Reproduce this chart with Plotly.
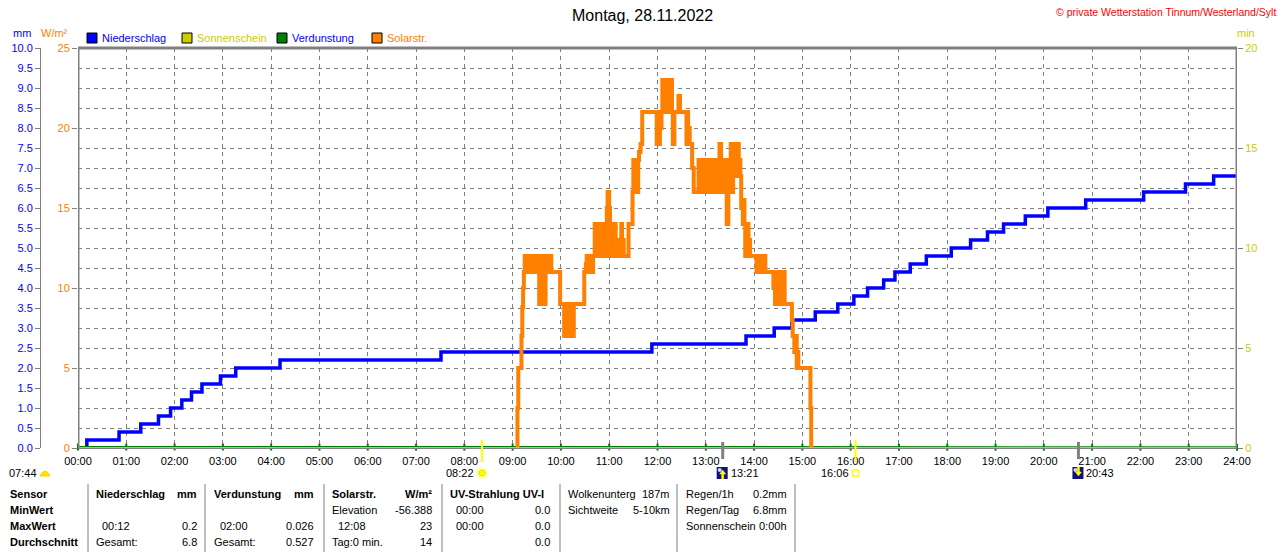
import plotly.graph_objects as go

# ---------------- data ----------------
precip_times = ["00:00", "00:11", "00:51", "01:18", "01:40", "01:55", "02:09", "02:21", "02:34",
                "02:57", "03:16", "04:11", "07:31", "11:53", "13:50", "14:25", "14:47", "15:16",
                "15:44", "16:04", "16:21", "16:41", "16:55", "17:14", "17:34", "18:05", "18:29",
                "18:50", "19:10", "19:37", "20:05", "20:52", "22:04", "22:56", "23:31", "24:00"]
precip_mm = [0.0, 0.2, 0.4, 0.6, 0.8, 1.0, 1.2, 1.4, 1.6, 1.8, 2.0, 2.2, 2.4, 2.6, 2.8, 3.0, 3.2,
             3.4, 3.6, 3.8, 4.0, 4.2, 4.4, 4.6, 4.8, 5.0, 5.2, 5.4, 5.6, 5.8, 6.0, 6.2, 6.4, 6.6,
             6.8, 6.8]

evap_times = ["%02d:00" % h for h in range(25)]
evap_mm = [0.022, 0.024, 0.026, 0.025, 0.024, 0.023, 0.022, 0.022, 0.021, 0.022, 0.023, 0.024,
           0.024, 0.023, 0.022, 0.021, 0.021, 0.020, 0.020, 0.020, 0.020, 0.020, 0.020, 0.020,
           0.020]

sun_times = ["00:00", "24:00"]
sun_min = [0, 0]

solar_times = [
    "09:05", "09:06", "09:07", "09:11", "09:12", "09:13", "09:14", "09:15", "09:16", "09:17",
    "09:18", "09:19", "09:20", "09:21", "09:23", "09:24", "09:26", "09:27", "09:29", "09:31",
    "09:33", "09:34", "09:35", "09:36", "09:37", "09:38", "09:39", "09:40", "09:41", "09:42",
    "09:44", "09:46", "09:47", "09:48", "09:59", "10:04", "10:05", "10:06", "10:07", "10:08",
    "10:09", "10:10", "10:11", "10:12", "10:14", "10:15", "10:16", "10:29", "10:31", "10:32",
    "10:33", "10:34", "10:35", "10:36", "10:37", "10:38", "10:39", "10:40", "10:42", "10:43",
    "10:44", "10:45", "10:46", "10:47", "10:48", "10:49", "10:50", "10:51", "10:52", "10:53",
    "10:54", "10:57", "10:58", "11:00", "11:01", "11:02", "11:03", "11:04", "11:05", "11:06",
    "11:07", "11:08", "11:09", "11:10", "11:15", "11:16", "11:17", "11:18", "11:24", "11:29",
    "11:30", "11:31", "11:32", "11:33", "11:34", "11:35", "11:36", "11:37", "11:39", "11:41",
    "11:59", "12:00", "12:02", "12:03", "12:04", "12:05", "12:06", "12:07", "12:08", "12:10",
    "12:11", "12:12", "12:13", "12:14", "12:15", "12:16", "12:17", "12:18", "12:19", "12:21",
    "12:26", "12:28", "12:36", "12:37", "12:38", "12:39", "12:40", "12:43", "12:45", "12:51",
    "12:54", "12:57", "12:58", "12:59", "13:00", "13:01", "13:02", "13:03", "13:04", "13:07",
    "13:08", "13:09", "13:10", "13:11", "13:12", "13:17", "13:19", "13:20", "13:21", "13:22",
    "13:23", "13:24", "13:26", "13:28", "13:30", "13:31", "13:32", "13:33", "13:34", "13:35",
    "13:36", "13:37", "13:38", "13:39", "13:40", "13:41", "13:42", "13:43", "13:44", "13:46",
    "13:47", "13:48", "13:49", "13:50", "13:51", "13:52", "13:53", "13:54", "13:55", "14:03",
    "14:04", "14:05", "14:06", "14:07", "14:08", "14:09", "14:10", "14:11", "14:12", "14:14",
    "14:24", "14:25", "14:26", "14:27", "14:28", "14:29", "14:30", "14:31", "14:32", "14:33",
    "14:34", "14:35", "14:36", "14:37", "14:38", "14:47", "14:48", "14:50", "14:52", "14:53",
    "14:54", "14:55", "15:10", "15:11"]
solar_wm2 = [
    0, 2.5, 5, 7, 8.8, 10, 11, 12, 11, 12,
    11, 12, 11, 12, 11, 12, 11, 12, 11, 12,
    9, 12, 9, 11, 9, 12, 11, 9, 12, 11,
    12, 11, 12, 11, 9, 7, 9, 7, 8, 7,
    9, 7, 9, 7, 8, 7, 9, 11, 11.5, 12,
    11, 12, 11, 12, 11, 12, 11, 12, 14, 12,
    14, 12, 14, 13, 12, 14, 12, 14, 12, 14,
    12, 15, 16, 15, 14, 12, 14, 12, 14, 12,
    14, 12, 13, 12, 14, 12, 13, 12, 14, 16,
    18, 16, 18, 16, 18, 16, 18, 18.5, 19, 21,
    19, 21, 19, 21, 20, 21, 23, 21, 23, 21,
    23, 22, 21, 23, 22, 21, 23, 21, 19, 21,
    22, 21, 19, 21, 19, 20, 19, 17.5, 16, 18,
    16, 18, 16, 18, 16, 18, 16, 17, 16, 18,
    16, 18, 16, 18, 16, 19, 16, 18, 16, 18,
    17, 18, 14, 18, 17, 19, 17, 16, 19, 17,
    19, 17, 19, 18, 19, 17, 18, 17, 15, 14,
    15.5, 14, 12, 14, 12, 14, 12, 13, 12, 11,
    12, 11, 12, 11, 12, 11, 12, 11, 12, 11,
    10, 11, 9, 11, 9, 11, 9, 11, 9, 11,
    9, 10, 9, 11, 9, 8, 7, 6, 7, 5,
    6, 5, 2.5, 0]

hour_labels = ["%02d:00" % h for h in range(25)]
mm_ticks = [i * 0.5 for i in range(21)]
wm2_ticks = [0, 5, 10, 15, 20, 25]
min_ticks = [0, 5, 10, 15, 20]

title_text = "Montag, 28.11.2022"
copyright_text = "© private Wetterstation Tinnum/Westerland/Sylt"
legend_items = [("Niederschlag", "#0000FF", "#0000FF"), ("Sonnenschein", "#CCCC00", "#CCCC00"),
                ("Verdunstung", "#008000", "#0000FF"), ("Solarstr.", "#FF8000", "#FF8000")]

dawn_time = "07:44"
sunrise_time = "08:22"
sunset_time = "16:06"
moonrise_time = "13:21"
moonset_time = "20:43"

table_rows = [
    # (text, x_px, anchor, bold, row)
    ("Sensor", 8, "left", True, 0), ("MinWert", 8, "left", True, 1),
    ("MaxWert", 8, "left", True, 2), ("Durchschnitt", 8, "left", True, 3),
    ("Niederschlag", 94, "left", True, 0), ("mm", 199, "right", True, 0),
    ("00:12", 100, "left", False, 2), ("0.2", 199, "right", False, 2),
    ("Gesamt:", 94, "left", False, 3), ("6.8", 199, "right", False, 3),
    ("Verdunstung", 212, "left", True, 0), ("mm", 316, "right", True, 0),
    ("02:00", 218, "left", False, 2), ("0.026", 316, "right", False, 2),
    ("Gesamt:", 212, "left", False, 3), ("0.527", 316, "right", False, 3),
    ("Solarstr.", 330, "left", True, 0), ("W/m²", 434, "right", True, 0),
    ("Elevation", 330, "left", False, 1), ("-56.388", 434, "right", False, 1),
    ("12:08", 336, "left", False, 2), ("23", 434, "right", False, 2),
    ("Tag:0 min.", 330, "left", False, 3), ("14", 434, "right", False, 3),
    ("UV-Strahlung UV-I", 448, "left", True, 0),
    ("00:00", 454, "left", False, 1), ("0.0", 552, "right", False, 1),
    ("00:00", 454, "left", False, 2), ("0.0", 552, "right", False, 2),
    ("0.0", 552, "right", False, 3),
    ("Wolkenunterg", 566, "left", False, 0), ("187m", 672, "right", False, 0),
    ("Sichtweite", 566, "left", False, 1), ("5-10km", 672, "right", False, 1),
    ("Regen/1h", 684, "left", False, 0), ("0.2mm", 789, "right", False, 0),
    ("Regen/Tag", 684, "left", False, 1), ("6.8mm", 789, "right", False, 1),
    ("Sonnenschein", 684, "left", False, 2), ("0:00h", 789, "right", False, 2),
]
table_row_y = [494, 510, 526, 542]
table_separators = [88, 205, 324, 442, 560, 677, 795]

# ---------------- helpers ----------------
def hrs(s):
    hh, mm = s.split(":")
    return int(hh) + int(mm) / 60.0

ML, MR, MT, MB = 10, 10, 48, 104
W, H = 1280, 552
PW = W - ML - MR
PH = H - MT - MB

def fx(px):
    return (px - ML) / PW

def fy(py):
    return (H - MB - py) / PH

FONT = "Liberation Sans, Arial, sans-serif"
GRAY = "#808080"
BLUE = "#0000FF"
ORANGE = "#FF8000"
GREEN = "#008000"
YEL = "#CCCC00"
FS = 11

fig = go.Figure()

fig.add_trace(go.Scatter(x=[hrs(t) for t in sun_times], y=sun_min, yaxis="y3", mode="lines",
                         line=dict(color=YEL, width=2), hoverinfo="skip"))
fig.add_trace(go.Scatter(x=[hrs(t) for t in solar_times], y=solar_wm2, yaxis="y2", mode="lines",
                         line=dict(color=ORANGE, width=4, shape="hv"), hoverinfo="skip"))
fig.add_trace(go.Scatter(x=[hrs(t) for t in precip_times], y=precip_mm, yaxis="y", mode="lines",
                         line=dict(color=BLUE, width=3.5, shape="hv"), hoverinfo="skip"))
fig.add_trace(go.Scatter(x=[hrs(t) for t in evap_times], y=evap_mm, yaxis="y", mode="lines+markers",
                         line=dict(color=GREEN, width=2),
                         marker=dict(symbol="line-ns", size=5, line=dict(color=GREEN, width=2)),
                         hoverinfo="skip", cliponaxis=False))

fig.update_layout(
    width=W, height=H, margin=dict(l=ML, r=MR, t=MT, b=MB, autoexpand=False),
    paper_bgcolor="white", plot_bgcolor="white", showlegend=False,
    font=dict(family=FONT, size=FS, color="black"),
    xaxis=dict(domain=[fx(78), fx(1237)], range=[0, 24], tickvals=list(range(25)),
               ticktext=hour_labels, showgrid=True, gridcolor=GRAY, griddash="4px,4px",
               gridwidth=1, zeroline=False, showline=True, linecolor=GRAY, linewidth=1,
               ticks="outside", ticklen=3, tickcolor="rgba(0,0,0,0)", automargin=False,
               tickfont=dict(family=FONT, size=FS, color="black")),
    yaxis=dict(anchor="free", position=fx(40), side="left", range=[0, 10], tickvals=mm_ticks,
               ticktext=["%.1f" % v for v in mm_ticks], tickfont=dict(color=BLUE, size=FS),
               ticks="outside", ticklen=5, tickcolor=GRAY, showline=True, linecolor=GRAY,
               linewidth=1, showgrid=True, gridcolor=GRAY, griddash="4px,4px", gridwidth=1,
               zeroline=False, automargin=False),
    yaxis2=dict(overlaying="y", anchor="x", side="left", range=[0, 25], tickvals=wm2_ticks,
                tickfont=dict(color=ORANGE, size=FS), ticks="outside", ticklen=5,
                tickcolor=GRAY, showgrid=False, zeroline=False, showline=False,
                automargin=False),
    yaxis3=dict(overlaying="y", anchor="x", side="right", range=[0, 20], tickvals=min_ticks,
                tickfont=dict(color=YEL, size=FS), ticks="outside", ticklen=5,
                tickcolor=GRAY, showgrid=False, zeroline=False, showline=False,
                automargin=False),
)

shapes = []
ann = []
# frame
shapes.append(dict(type="line", xref="x", yref="y domain", x0=0, x1=0, y0=0, y1=1,
                   line=dict(color=GRAY, width=3)))
shapes.append(dict(type="line", xref="x", yref="y domain", x0=24, x1=24, y0=0, y1=1,
                   line=dict(color=GRAY, width=3)))
shapes.append(dict(type="line", xref="x", yref="y domain", x0=0, x1=24, y0=1, y1=1,
                   line=dict(color=GRAY, width=3)))

# title, copyright, axis titles
ann.append(dict(text=title_text, x=fx(642), y=fy(16), xref="paper", yref="paper",
                showarrow=False, xanchor="center", yanchor="middle",
                font=dict(family=FONT, size=16, color="black")))
ann.append(dict(text=copyright_text, x=fx(1278), y=fy(12), xref="paper", yref="paper",
                showarrow=False, xanchor="right", yanchor="middle",
                font=dict(size=10.5, color="#FF0000")))
for txt, cx, col in [("mm", 22, BLUE), ("W/m²", 54, ORANGE), ("min", 1246, YEL)]:
    ann.append(dict(text=txt, x=fx(cx), y=fy(33), xref="paper", yref="paper", showarrow=False,
                    xanchor="center", yanchor="middle", font=dict(size=FS, color=col)))

# legend
leg_x = [87, 182, 277, 372]
for (name, box, tcol), lx in zip(legend_items, leg_x):
    shapes.append(dict(type="rect", xref="paper", yref="paper", x0=fx(lx), x1=fx(lx + 10),
                       y0=fy(43), y1=fy(33), fillcolor=box, line=dict(color="black", width=1)))
    ann.append(dict(text=name, x=fx(lx + 13), y=fy(38), xref="paper", yref="paper",
                    showarrow=False, xanchor="left", yanchor="middle",
                    font=dict(size=FS, color=tcol)))

# sun / moon markers below the axis
ty = fy(473)
def tick(t, col, w, ya, yb):
    shapes.append(dict(type="line", xref="x", yref="paper", x0=hrs(t), x1=hrs(t),
                       y0=fy(ya), y1=fy(yb), line=dict(color=col, width=w)))

tick(sunrise_time, "#FFFF00", 2, 440, 462)
tick(sunset_time, "#FFFF00", 2, 440, 462)
tick(moonrise_time, GRAY, 3, 442, 459)
tick(moonset_time, GRAY, 3, 442, 459)

def label(t, text, anchor, shift):
    ann.append(dict(text=text, x=hrs(t), y=ty, xref="x", yref="paper", showarrow=False,
                    xanchor=anchor, yanchor="middle", xshift=shift, font=dict(size=FS)))

label(sunrise_time, sunrise_time, "right", -6)
label(sunset_time, sunset_time, "right", -5)
label(moonrise_time, moonrise_time, "left", 6)
label(moonset_time, moonset_time, "left", 6)
ann.append(dict(text=dawn_time, x=fx(7), y=ty, xref="paper", yref="paper", showarrow=False,
                xanchor="left", yanchor="middle", font=dict(size=FS)))

def pix_shape(xanchor_val, xref, **kw):
    d = dict(xref=xref, yref="paper", xsizemode="pixel", ysizemode="pixel",
             xanchor=xanchor_val, yanchor=ty)
    d.update(kw)
    shapes.append(d)

# dawn half sun
pix_shape(fx(45), "paper", type="path", path="M -5,-3 Q 0,7 5,-3 Z",
          fillcolor="#FFE600", line=dict(color="#FFD000", width=1))
# sunrise sun
pix_shape(hrs(sunrise_time), "x", type="circle", x0=-5, x1=5, y0=-5, y1=5,
          fillcolor="#FFFF66", line=dict(color="#FFFFB0", width=2))
pix_shape(hrs(sunrise_time), "x", type="circle", x0=-3, x1=3, y0=-3, y1=3,
          fillcolor="#FFFF00", line=dict(color="#F0E000", width=1))
# sunset square
pix_shape(hrs(sunset_time), "x", type="rect", x0=-3, x1=3, y0=-3, y1=3,
          fillcolor="white", line=dict(color="#FFFF00", width=1.5))
# moon icons
for t, up in [(moonrise_time, True), (moonset_time, False)]:
    pix_shape(hrs(t), "x", type="rect", x0=-6, x1=5, y0=-6, y1=6,
              fillcolor="#101080", line=dict(color="#101080", width=0))
    pix_shape(hrs(t), "x", type="circle", x0=-5, x1=-1, y0=1, y1=5,
              fillcolor="#D0D8F0", line=dict(width=0))
    if up:
        p = "M 0,3 L -3,-1 L -1,-1 L -1,-6 L 1,-6 L 1,-1 L 3,-1 Z"
    else:
        p = "M 0,-3 L -3,1 L -1,1 L -1,6 L 1,6 L 1,1 L 3,1 Z"
    pix_shape(hrs(t), "x", type="path", path=p, fillcolor="#FFFF00",
              line=dict(color="#FFFF00", width=0.5))

# bottom table
for sx in table_separators:
    shapes.append(dict(type="line", xref="paper", yref="paper", x0=fx(sx), x1=fx(sx),
                       y0=fy(484), y1=fy(552), line=dict(color=GRAY, width=1)))
for text, px, anchor, bold, row in table_rows:
    ann.append(dict(text="<b>%s</b>" % text if bold else text, x=fx(px), y=fy(table_row_y[row]),
                    xref="paper", yref="paper", showarrow=False, xanchor=anchor,
                    yanchor="middle", font=dict(size=FS, color="black")))

fig.update_layout(shapes=shapes, annotations=ann)
fig.write_html("out.html", config={"displayModeBar": False},
               post_script="document.body.style.margin='0px';")
